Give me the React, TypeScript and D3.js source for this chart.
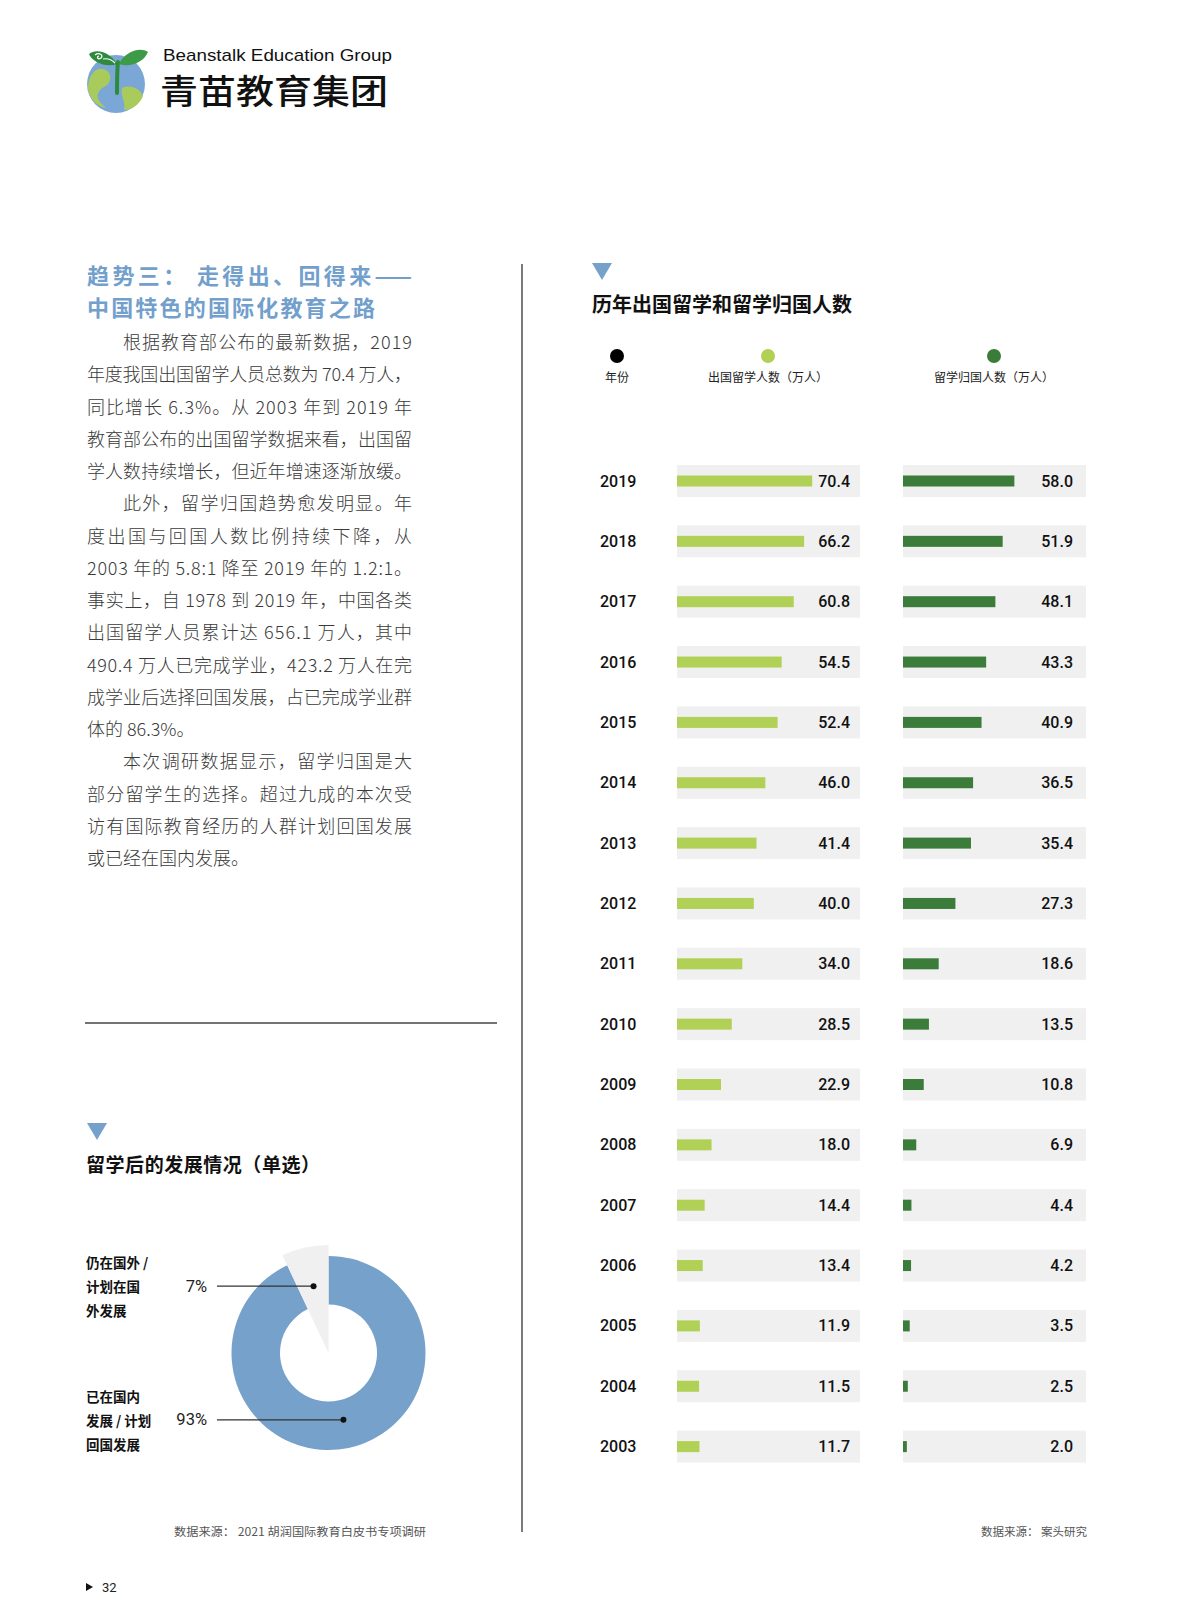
import * as d3 from 'd3';

const YEARS = ['2019', '2018', '2017', '2016', '2015', '2014', '2013', '2012', '2011', '2010', '2009', '2008', '2007', '2006', '2005', '2004', '2003'];
const OUTBOUND = [70.4, 66.2, 60.8, 54.5, 52.4, 46.0, 41.4, 40.0, 34.0, 28.5, 22.9, 18.0, 14.4, 13.4, 11.9, 11.5, 11.7];
const RETURNED = [58.0, 51.9, 48.1, 43.3, 40.9, 36.5, 35.4, 27.3, 18.6, 13.5, 10.8, 6.9, 4.4, 4.2, 3.5, 2.5, 2.0];
const LEGEND = ['年份', '出国留学人数（万人）', '留学归国人数（万人）'];

const DEV_LABELS = [['已在国内', '发展 / 计划', '回国发展'], ['仍在国外 /', '计划在国', '外发展']];
const DEV_VALUES = [93, 7];

const BODY_LINES: [string, boolean, boolean][] = [
    // text, indent, justify
    ['根据教育部公布的最新数据，2019', true, true],
    ['年度我国出国留学人员总数为 70.4 万人，', false, true],
    ['同比增长 6.3%。从 2003 年到 2019 年', false, true],
    ['教育部公布的出国留学数据来看，出国留', false, true],
    ['学人数持续增长，但近年增速逐渐放缓。', false, true],
    ['此外，留学归国趋势愈发明显。年', true, true],
    ['度出国与回国人数比例持续下降，从', false, true],
    ['2003 年的 5.8:1 降至 2019 年的 1.2:1。', false, true],
    ['事实上，自 1978 到 2019 年，中国各类', false, true],
    ['出国留学人员累计达 656.1 万人，其中', false, true],
    ['490.4 万人已完成学业，423.2 万人在完', false, true],
    ['成学业后选择回国发展，占已完成学业群', false, true],
    ['体的 86.3%。', false, false],
    ['本次调研数据显示，留学归国是大', true, true],
    ['部分留学生的选择。超过九成的本次受', false, true],
    ['访有国际教育经历的人群计划回国发展', false, true],
    ['或已经在国内发展。', false, false],
];

const CJK = '"Noto Sans CJK SC", "Noto Sans", sans-serif';
const NUM = 'Roboto, "Liberation Sans", Arial, sans-serif';
const LIGHT = '#b0d056';
const DARK = '#3b7c3a';
const BLUE = '#76a1cb';
const TITLE_BLUE = '#739fcc';
const BG = '#f0f0f0';

const W = 1199;
const H = 1622;

export default function App() {
    // bar chart scales
    const y = d3.scalePoint<string>().domain(YEARS).range([481, 1446.6]);
    const x = d3.scaleLinear().domain([0, 95.3]).range([0, 183]);
    const leftX = 677;
    const rightX = 903;
    const bgW = 183;

    // donut
    const cx = 328.5;
    const cy = 1353;
    const pie = d3.pie<number>().sort(null).value((d) => d)(DEV_VALUES);
    const ring = d3.arc<d3.PieArcDatum<number>>().innerRadius(48.5).outerRadius(97);
    const wedge = d3.arc<d3.PieArcDatum<number>>().innerRadius(0).outerRadius(108);
    const dotArc = d3.arc<d3.PieArcDatum<number>>().innerRadius(68.5).outerRadius(68.5);

    const lineY = (i: number) => 341 + 32.25 * i;

    return (
        <div style={{ position: 'absolute', left: 0, top: 0 }}>
            <svg width={W} height={H} style={{ display: 'block', background: '#fff' }}>
                {/* logo */}
                <g>
                    <circle cx={116} cy={84} r={29} fill="#7aa7d6" />
                    <path d="M96,70 C104,66 112,72 110,80 C108,88 100,86 98,94 C96,100 102,104 106,108 C96,106 89,98 88,88 C88,80 91,74 96,70 Z" fill="#a9cb5c" />
                    <path d="M122,88 C130,84 140,88 143,96 C140,104 132,110 124,110 C126,102 120,96 122,88 Z" fill="#a9cb5c" />
                    <path d="M117,93 C117,80 117,70 118,62" stroke="#2e8b3e" strokeWidth={4} fill="none" strokeLinecap="round" />
                    <path d="M117,64 C110,52 96,48 89,54 C92,62 106,68 117,64 Z" fill="#2e8b3e" />
                    <path d="M119,64 C124,52 140,46 148,52 C144,62 130,68 119,64 Z" fill="#3d9a46" />
                    <path d="M95,55 C99,52 104,55 101,58 C98,60 96,57 99,56" stroke="#fff" strokeWidth={1.3} fill="none" />
                    <path d="M103,59 C108,58 112,60 115,63" stroke="#fff" strokeWidth={1.2} fill="none" />
                    <text x={163} y={55} fontFamily='"Liberation Sans", Arial, sans-serif' fontSize={17} fill="#111" dominantBaseline="central" textLength={229} lengthAdjust="spacingAndGlyphs">
                        Beanstalk Education Group
                    </text>
                    <text x={160} y={89} fontFamily={CJK} fontSize={34} fontWeight={500} fill="#111" dominantBaseline="central" textLength={228} lengthAdjust="spacingAndGlyphs">
                        青苗教育集团
                    </text>
                </g>

                {/* left article */}
                <text x={87} y={274} fontFamily={CJK} fontSize={22} fontWeight={700} fill={TITLE_BLUE} dominantBaseline="central" textLength={325} lengthAdjust="spacing">
                    趋势三： 走得出、回得来——
                </text>
                <text x={87} y={306} fontFamily={CJK} fontSize={22} fontWeight={700} fill={TITLE_BLUE} dominantBaseline="central" textLength={288} lengthAdjust="spacing">
                    中国特色的国际化教育之路
                </text>
                {BODY_LINES.map(([t, indent, just], i) => (
                    <text
                        key={i}
                        x={indent ? 123 : 87}
                        y={lineY(i)}
                        fontFamily={CJK}
                        fontSize={18}
                        fontWeight={300}
                        fill="#3a3a3a"
                        dominantBaseline="central"
                        {...(just ? { textLength: indent ? 289 : 325, lengthAdjust: 'spacing' } : {})}
                    >
                        {t}
                    </text>
                ))}

                {/* dividers */}
                <line x1={85} x2={497} y1={1023} y2={1023} stroke="#444" strokeWidth={1.4} />
                <line x1={522} x2={522} y1={264} y2={1532} stroke="#222" strokeWidth={1.2} />

                {/* donut section */}
                <path d="M87,1123 L107,1123 L97,1140 Z" fill={BLUE} />
                <text x={86} y={1163} fontFamily={CJK} fontSize={19} fontWeight={700} fill="#111" dominantBaseline="central" textLength={234} lengthAdjust="spacing">
                    留学后的发展情况（单选）
                </text>
                <g transform={`translate(${cx},${cy})`}>
                    <path d={ring(pie[0]) ?? ''} fill={BLUE} />
                    <path d={wedge(pie[1]) ?? ''} fill={BG} />
                </g>
                {pie.map((p, i) => {
                    const [dx, dy] = dotArc.centroid(p);
                    const py = cy + dy;
                    return (
                        <g key={i}>
                            <line x1={217} x2={cx + dx} y1={py} y2={py} stroke="#333" strokeWidth={1.2} />
                            <circle cx={cx + dx} cy={py} r={3} fill="#111" />
                            <text x={207} y={py} textAnchor="end" fontFamily={NUM} fontSize={16.5} fill="#222" dominantBaseline="central">
                                {DEV_VALUES[i]}%
                            </text>
                            {DEV_LABELS[i].map((l, j) => (
                                <text key={j} x={86} y={py - 24 + j * 24} fontFamily={CJK} fontSize={13.5} fontWeight={700} fill="#111" dominantBaseline="central">
                                    {l}
                                </text>
                            ))}
                        </g>
                    );
                })}
                <text x={174} y={1531} fontFamily={CJK} fontSize={11.5} fill="#555" dominantBaseline="central" textLength={252} lengthAdjust="spacingAndGlyphs">
                    数据来源： 2021 胡润国际教育白皮书专项调研
                </text>

                {/* bar chart section */}
                <path d="M592,263 L612,263 L602,280 Z" fill={BLUE} />
                <text x={592} y={303} fontFamily={CJK} fontSize={20} fontWeight={700} fill="#111" dominantBaseline="central">
                    历年出国留学和留学归国人数
                </text>
                {[
                    { cx: 617, color: '#000' },
                    { cx: 768, color: LIGHT },
                    { cx: 994, color: DARK },
                ].map((d, i) => (
                    <g key={i}>
                        <circle cx={d.cx} cy={356} r={7} fill={d.color} />
                        <text x={d.cx} y={376} textAnchor="middle" fontFamily={CJK} fontSize={12} fill="#222" dominantBaseline="central">
                            {LEGEND[i]}
                        </text>
                    </g>
                ))}
                {YEARS.map((yr, i) => {
                    const yc = y(yr)!;
                    return (
                        <g key={yr}>
                            <text x={600} y={yc} fontFamily={NUM} fontSize={16} fontWeight={500} fill="#111" dominantBaseline="central">
                                {yr}
                            </text>
                            <rect x={leftX} y={yc - 16} width={bgW} height={32} fill={BG} />
                            <rect x={leftX} y={yc - 5.5} width={x(OUTBOUND[i])} height={11} fill={LIGHT} />
                            <text x={850} y={yc} textAnchor="end" fontFamily={NUM} fontSize={16} fontWeight={500} fill="#111" dominantBaseline="central">
                                {OUTBOUND[i].toFixed(1)}
                            </text>
                            <rect x={rightX} y={yc - 16} width={bgW} height={32} fill={BG} />
                            <rect x={rightX} y={yc - 5.5} width={x(RETURNED[i])} height={11} fill={DARK} />
                            <text x={1073} y={yc} textAnchor="end" fontFamily={NUM} fontSize={16} fontWeight={500} fill="#111" dominantBaseline="central">
                                {RETURNED[i].toFixed(1)}
                            </text>
                        </g>
                    );
                })}
                <text x={1087} y={1531} textAnchor="end" fontFamily={CJK} fontSize={11.5} fill="#555" dominantBaseline="central">
                    数据来源： 案头研究
                </text>

                {/* page number */}
                <path d="M86,1583 L93,1587 L86,1591 Z" fill="#111" />
                <text x={102} y={1587} fontFamily={NUM} fontSize={13} fill="#222" dominantBaseline="central">
                    32
                </text>
            </svg>
        </div>
    );
}
